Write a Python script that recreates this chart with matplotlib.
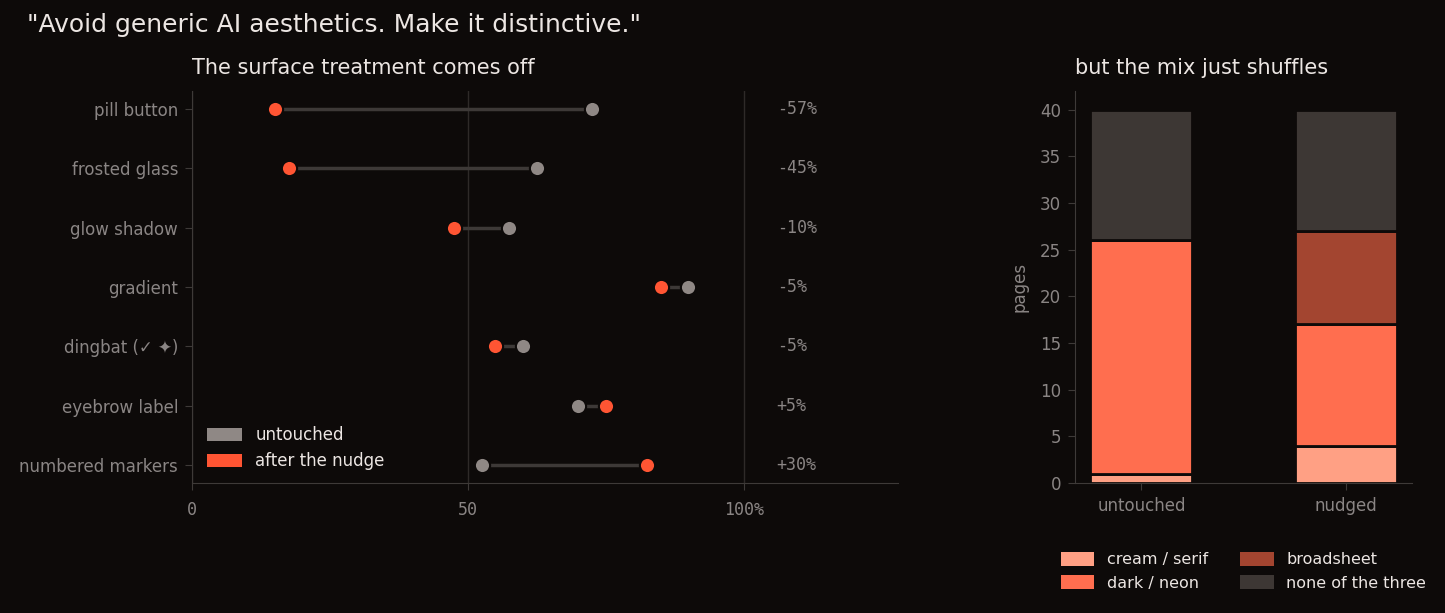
import numpy as np
import matplotlib
matplotlib.use("Agg")
import matplotlib.pyplot as plt
from matplotlib.patches import Patch

# ================= Data =================
features = ["pill button", "frosted glass", "glow shadow", "gradient",
            "dingbat (\u2713 \u2726)", "eyebrow label", "numbered markers"]
untouched_pct = [72.5, 62.5, 57.5, 90, 60, 70, 52.5]
nudged_pct = [15, 17.5, 47.5, 85, 55, 75, 82.5]

groups = ["untouched", "nudged"]
mix_names = ["cream / serif", "dark / neon", "broadsheet", "none of the three"]
cream = [1, 4]
dark = [25, 13]
broadsheet = [0, 10]
none_three = [14, 13]

# ================= Style =================
BG = "#0d0a09"
GREY_TXT = "#8a8584"
LIGHT = "#ece6e3"
SPINE = "#3e3a38"
C_UNT = "#8f8885"
C_NUD = "#ff5533"
MIX_COLORS = ["#ffa084", "#ff6e4f", "#a34530", "#3d3734"]

plt.rcParams["font.family"] = ["DejaVu Sans"]

fig = plt.figure(figsize=(14.45, 6.13), dpi=100, facecolor=BG)
ax = fig.add_axes([192/1445, 1 - 483/613, (898-192)/1445, (483-91)/613])
ax2 = fig.add_axes([1075/1445, 1 - 483/613, (1412-1075)/1445, (483-91)/613])

for a in (ax, ax2):
    a.set_facecolor(BG)
    for s in ("top", "right"):
        a.spines[s].set_visible(False)
    for s in ("left", "bottom"):
        a.spines[s].set_color(SPINE)
    a.tick_params(colors=SPINE, labelcolor=GREY_TXT, labelsize=12, length=5, pad=5)

# ---- left: dumbbells ----
y = np.arange(len(features))
for yi, u, n in zip(y, untouched_pct, nudged_pct):
    ax.plot([u, n], [yi, yi], color="#3d3937", lw=2.5, zorder=1)
ax.scatter(untouched_pct, y, s=120, color=C_UNT, zorder=3, edgecolor=BG, linewidth=1.5)
ax.scatter(nudged_pct, y, s=120, color=C_NUD, zorder=3, edgecolor=BG, linewidth=1.5)

for yi, u, n in zip(y, untouched_pct, nudged_pct):
    d = int(n - u)
    ax.text(106, yi, f"{d:+d}%", va="center", ha="left", color=GREY_TXT,
            fontsize=12, family="DejaVu Sans Mono")

ax.set_xlim(0, 128)
ax.set_ylim(len(features) - 0.7, -0.3)
ax.set_yticks(y)
ax.set_yticklabels(features)
ax.set_xticks([0, 50, 100])
ax.set_xticklabels(["0", "50", "100%"], family="DejaVu Sans Mono", fontsize=12)
ax.tick_params(axis="x", pad=8)
ax.grid(axis="x", color="#2e2a28", lw=1)
ax.set_axisbelow(True)
ax.set_title("The surface treatment comes off", loc="left", color=LIGHT,
             fontsize=15, pad=12)

ax.legend(handles=[Patch(facecolor=C_UNT, label="untouched"),
                   Patch(facecolor=C_NUD, label="after the nudge")],
          loc="lower left", frameon=False, fontsize=12,
          labelcolor=LIGHT, handlelength=2.1, handleheight=0.8,
          labelspacing=0.45, bbox_to_anchor=(0.0, -0.005))

# ---- right: stacked bars ----
xb = np.arange(len(groups))
bottom = np.zeros(len(groups))
for name, vals, col in zip(mix_names, [cream, dark, broadsheet, none_three], MIX_COLORS):
    ax2.bar(xb, vals, 0.5, bottom=bottom, color=col, edgecolor=BG, linewidth=2)
    bottom += np.array(vals)

ax2.set_xticks(xb)
ax2.set_xticklabels(groups)
ax2.set_yticks(range(0, 41, 5))
ax2.set_ylim(0, 42)
ax2.set_ylabel("pages", color=GREY_TXT, fontsize=12, labelpad=8)
ax2.set_title("but the mix just shuffles", loc="left", color=LIGHT, fontsize=15, pad=12)
ax2.legend(handles=[Patch(facecolor=c, label=n) for n, c in zip(mix_names, MIX_COLORS)],
           loc="upper center", bbox_to_anchor=(0.5, -0.14), ncol=2, frameon=False,
           fontsize=11.5, labelcolor=LIGHT, handlelength=2.1, handleheight=0.9,
           columnspacing=2.0)

fig.text(27/1445, 1 - 25/613, '"Avoid generic AI aesthetics. Make it distinctive."',
         color=LIGHT, fontsize=18, va="center", ha="left")

fig.savefig("out.png", dpi=100, facecolor=BG)
